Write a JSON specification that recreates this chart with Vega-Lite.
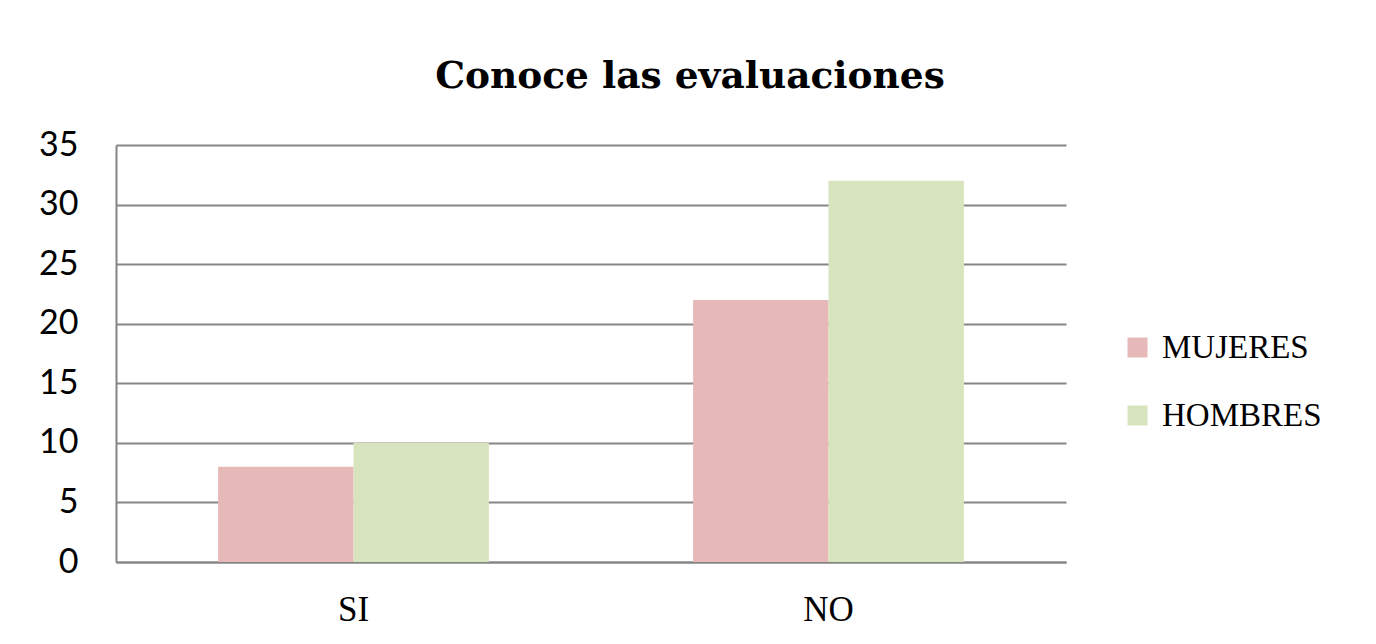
{
  "$schema": "https://vega.github.io/schema/vega-lite/v6.json",
  "autosize": "none",
  "width": 950,
  "height": 417,
  "padding": {"left": 116, "top": 145, "right": 310, "bottom": 82},
  "background": "white",
  "title": {
    "text": "Conoce las evaluaciones",
    "font": "DejaVu Serif",
    "fontWeight": "bold",
    "fontSize": 37.5,
    "color": "#000000",
    "anchor": "middle",
    "frame": "group",
    "dx": 99,
    "offset": 33
  },
  "data": {
    "values": [
      {"respuesta": "SI", "grupo": "MUJERES", "valor": 8},
      {"respuesta": "SI", "grupo": "HOMBRES", "valor": 10},
      {"respuesta": "NO", "grupo": "MUJERES", "valor": 22},
      {"respuesta": "NO", "grupo": "HOMBRES", "valor": 32}
    ]
  },
  "mark": {"type": "bar"},
  "encoding": {
    "x": {
      "field": "respuesta",
      "type": "nominal",
      "sort": ["SI", "NO"],
      "scale": {"paddingInner": 0.43, "paddingOuter": 0.215},
      "axis": {
        "title": null,
        "labelAngle": 0,
        "labelFont": "Liberation Serif",
        "labelFontSize": 35,
        "labelColor": "#000000",
        "labelPadding": 30,
        "ticks": false,
        "domainColor": "#868686",
        "domainWidth": 2
      }
    },
    "xOffset": {
      "field": "grupo",
      "type": "nominal",
      "sort": ["MUJERES", "HOMBRES"],
      "scale": {"paddingInner": 0, "paddingOuter": 0}
    },
    "y": {
      "field": "valor",
      "type": "quantitative",
      "scale": {"domain": [0, 35], "nice": false},
      "axis": {
        "title": null,
        "values": [0, 5, 10, 15, 20, 25, 30, 35],
        "labelFont": "Lato",
        "labelFontSize": 34,
        "labelColor": "#000000",
        "labelPadding": 38,
        "ticks": false,
        "grid": true,
        "gridColor": "#868686",
        "gridWidth": 2,
        "domainColor": "#868686",
        "domainWidth": 2
      }
    },
    "color": {
      "field": "grupo",
      "type": "nominal",
      "sort": ["MUJERES", "HOMBRES"],
      "scale": {"domain": ["MUJERES", "HOMBRES"], "range": ["#e6b9b8", "#d7e4bd"]},
      "legend": {
        "title": null,
        "orient": "none",
        "legendX": 1005,
        "legendY": 186,
        "symbolType": "square",
        "symbolSize": 400,
        "symbolStrokeWidth": 0,
        "labelFont": "Liberation Serif",
        "labelFontSize": 33,
        "labelColor": "#000000",
        "labelOffset": 8,
        "rowPadding": 34
      }
    }
  },
  "config": {
    "view": {"stroke": null}
  }
}
